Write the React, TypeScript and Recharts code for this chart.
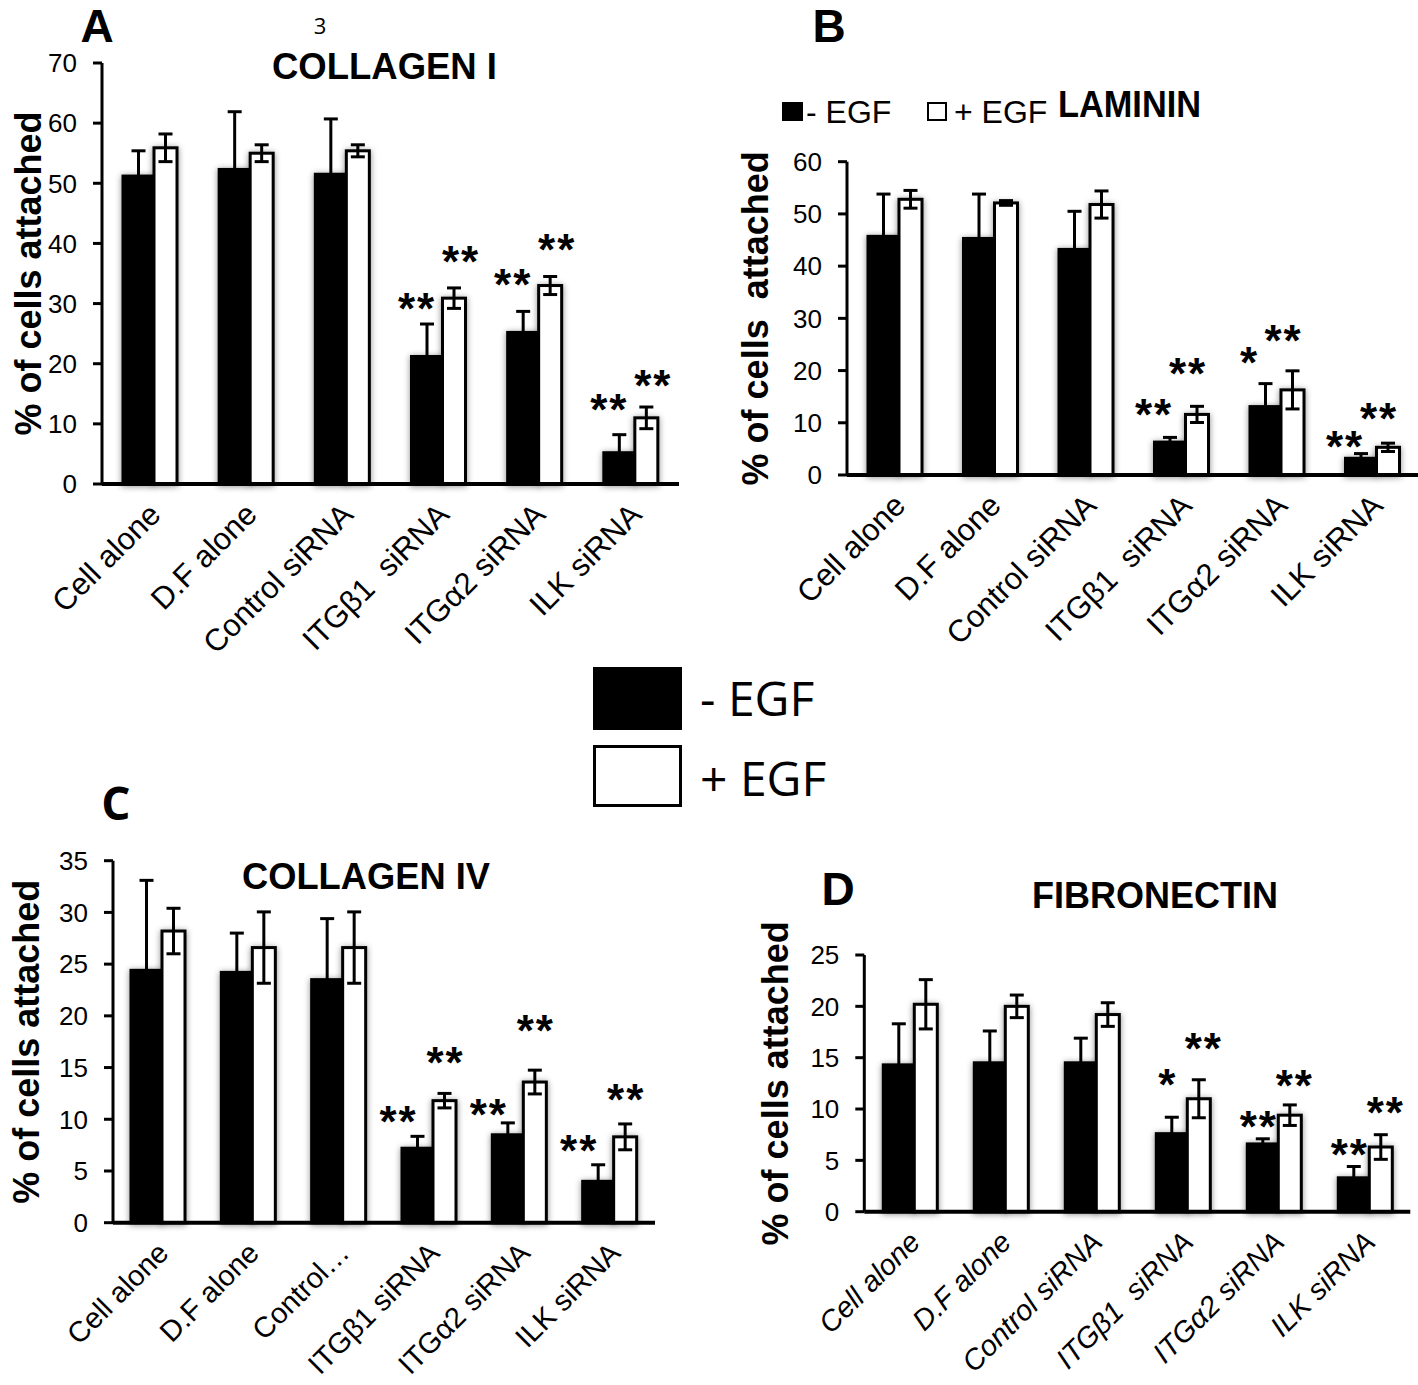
import React from 'react';
import { BarChart, Bar, XAxis, YAxis, ErrorBar } from 'recharts';

const FONT = '"Liberation Sans", Arial, Helvetica, sans-serif';
const LEG_FONT = '"Open Sans", "Liberation Sans", sans-serif';
const STAR_FS = 44;
const STAR_LS = 2;

const seriesNames = ['- EGF', '+ EGF'];

const labelsA = ['Cell alone', 'D.F alone', 'Control siRNA', 'ITGβ1  siRNA', 'ITGα2 siRNA', 'ILK siRNA'];
const labelsB = ['Cell alone', 'D.F alone', 'Control siRNA', 'ITGβ1  siRNA', 'ITGα2 siRNA', 'ILK siRNA'];
const labelsC = ['Cell alone', 'D.F alone', 'Control…', 'ITGβ1 siRNA', 'ITGα2 siRNA', 'ILK siRNA'];
const labelsD = ['Cell alone', 'D.F alone', 'Control siRNA', 'ITGβ1  siRNA', 'ITGα2 siRNA', 'ILK siRNA'];

// A – COLLAGEN I
const minusA = [51.2, 52.3, 51.5, 21.2, 25.2, 5.2];
const minusErrA = [4.2, 9.6, 9.2, 5.4, 3.5, 3.0];
const plusA = [55.9, 55.0, 55.4, 30.9, 33.0, 11.0];
const plusErrA = [2.3, 1.4, 1.0, 1.7, 1.5, 1.8];
const starsMinusA = ['', '', '', '**', '**', '**'];
const starLvMinusA = [0, 0, 0, 30.8, 34.7, 14.0];
const starsPlusA = ['', '', '', '**', '**', '**'];
const starLvPlusA = [0, 0, 0, 38.6, 40.6, 18.0];
const ticksA = [0, 10, 20, 30, 40, 50, 60, 70];

// B – LAMININ
const minusB = [45.7, 45.3, 43.2, 6.3, 13.1, 3.2];
const minusErrB = [8.1, 8.5, 7.3, 0.9, 4.4, 0.9];
const plusB = [52.8, 52.1, 51.8, 11.6, 16.3, 5.3];
const plusErrB = [1.7, 0.45, 2.6, 1.55, 3.65, 0.8];
const starsMinusB = ['', '', '', '**', '*', '**'];
const starLvMinusB = [0, 0, 0, 13.5, 23.4, 7.3];
const starsPlusB = ['', '', '', '**', '**', '**'];
const starLvPlusB = [0, 0, 0, 21.2, 27.5, 12.7];
const ticksB = [0, 10, 20, 30, 40, 50, 60];

// C – COLLAGEN IV
const minusC = [24.4, 24.2, 23.5, 7.2, 8.5, 4.0];
const minusErrC = [8.7, 3.8, 5.9, 1.15, 1.15, 1.6];
const plusC = [28.2, 26.6, 26.6, 11.8, 13.6, 8.3];
const plusErrC = [2.2, 3.45, 3.45, 0.7, 1.15, 1.25];
const starsMinusC = ['', '', '', '**', '**', '**'];
const starLvMinusC = [0, 0, 0, 10.7, 11.4, 7.9];
const starsPlusC = ['', '', '', '**', '**', '**'];
const starLvPlusC = [0, 0, 0, 16.4, 19.5, 12.8];
const ticksC = [0, 5, 10, 15, 20, 25, 30, 35];

// D – FIBRONECTIN
const minusD = [14.3, 14.5, 14.5, 7.6, 6.6, 3.3];
const minusErrD = [4.0, 3.1, 2.4, 1.6, 0.5, 1.1];
const plusD = [20.2, 20.0, 19.2, 11.0, 9.4, 6.3];
const plusErrD = [2.4, 1.1, 1.15, 1.85, 1.0, 1.2];
const starsMinusD = ['', '', '', '*', '**', '**'];
const starLvMinusD = [0, 0, 0, 13.3, 9.2, 6.5];
const starsPlusD = ['', '', '', '**', '**', '**'];
const starLvPlusD = [0, 0, 0, 16.8, 13.2, 10.6];
const ticksD = [0, 5, 10, 15, 20, 25];

const yTitle = '% of cells attached';
const yTitleB = '% of cells  attached';

const barShape = (fill: string, valueKey: string, starKey: string, levelKey: string, dx: number) => (p: any) => {
  const { x, y, width, height, payload } = p;
  const v = payload[valueKey];
  const base = y + height;
  const per = v ? height / v : 0;
  const star = payload[starKey];
  const lvl = payload[levelKey];
  return (
    <g>
      <rect
        x={x}
        y={y}
        width={width}
        height={height}
        fill={fill}
        stroke="#000"
        strokeWidth={3}
        style={{ filter: 'drop-shadow(0px 1px 3px rgba(0,0,0,0.45))' }}
      />
      {star ? (
        <text
          x={x + width / 2 + dx + STAR_LS / 2}
          y={base - lvl * per + STAR_FS * 0.57}
          textAnchor="middle"
          fontSize={STAR_FS}
          fontWeight="bold"
          letterSpacing={STAR_LS}
          fontFamily={FONT}
          fill="#000"
        >
          {star}
        </text>
      ) : null}
    </g>
  );
};

const XTick = (props: any) => {
  const { x, y, payload, italic, fs } = props;
  const ax = x + 5;
  const ay = y + 17;
  return (
    <text
      x={ax}
      y={ay}
      transform={`rotate(-45, ${ax}, ${ay})`}
      textAnchor="end"
      dominantBaseline="central"
      fontSize={fs}
      fontStyle={italic ? 'italic' : 'normal'}
      fontFamily={FONT}
      fill="#000"
      style={{ whiteSpace: 'pre' }}
    >
      {payload.value}
    </text>
  );
};

type Cfg = {
  left: number;
  top: number;
  width: number;
  height: number;
  mTop: number;
  mRight: number;
  yW: number;
  xH: number;
  max: number;
  ticks: number[];
  labels: string[];
  minus: number[];
  minusErr: number[];
  plus: number[];
  plusErr: number[];
  sM: string[];
  lM: number[];
  sP: string[];
  lP: number[];
  dxM: number;
  dxP: number;
  italic?: boolean;
  xFs: number;
  yTitle: string;
  yTitleX: number;
};

function Panel({ c }: { c: Cfg }) {
  const data = c.labels.map((name, i) => ({
    name,
    minus: c.minus[i],
    minusErr: c.minusErr[i],
    plus: c.plus[i],
    plusErr: c.plusErr[i],
    sM: c.sM[i],
    lM: c.lM[i],
    sP: c.sP[i],
    lP: c.lP[i],
  }));
  const plotH = c.height - c.mTop - c.xH;
  const cy = c.mTop + plotH / 2;
  return (
    <div style={{ position: 'absolute', left: c.left, top: c.top }}>
      <BarChart
        width={c.width}
        height={c.height}
        data={data}
        margin={{ top: c.mTop, right: c.mRight, bottom: 0, left: 0 }}
        barGap={0}
      >
        <XAxis
          dataKey="name"
          height={c.xH}
          interval={0}
          tickLine={false}
          axisLine={{ stroke: '#000', strokeWidth: 4 }}
          tick={<XTick italic={c.italic} fs={c.xFs} />}
        />
        <YAxis
          width={c.yW}
          domain={[0, c.max]}
          ticks={c.ticks}
          interval={0}
          axisLine={{ stroke: '#000', strokeWidth: 3 }}
          tickLine={{ stroke: '#000', strokeWidth: 3 }}
          tickSize={9}
          tickMargin={16}
          tick={{ fill: '#000', fontSize: 26, fontFamily: FONT }}
          label={{
            content: () => (
              <text
                x={c.yTitleX}
                y={cy}
                transform={`rotate(-90, ${c.yTitleX}, ${cy})`}
                textAnchor="middle"
                dominantBaseline="central"
                fontSize={36}
                fontWeight="bold"
                fontFamily={FONT}
                fill="#000"
                style={{ whiteSpace: 'pre' }}
              >
                {c.yTitle}
              </text>
            ),
          }}
        />
        <Bar
          dataKey="minus"
          name={seriesNames[0]}
          barSize={31}
          fill="#000"
          isAnimationActive={false}
          shape={barShape('#000', 'minus', 'sM', 'lM', c.dxM)}
        >
          <ErrorBar dataKey="minusErr" width={7} strokeWidth={3} stroke="#000" direction="y" />
        </Bar>
        <Bar
          dataKey="plus"
          name={seriesNames[1]}
          barSize={23}
          fill="#fff"
          isAnimationActive={false}
          shape={barShape('#fff', 'plus', 'sP', 'lP', c.dxP)}
        >
          <ErrorBar dataKey="plusErr" width={7} strokeWidth={3} stroke="#000" direction="y" />
        </Bar>
      </BarChart>
    </div>
  );
}

const cfgA: Cfg = {
  left: 0, top: 0, width: 690, height: 665, mTop: 63, mRight: 11, yW: 102, xH: 181,
  max: 70, ticks: ticksA, labels: labelsA,
  minus: minusA, minusErr: minusErrA, plus: plusA, plusErr: plusErrA,
  sM: starsMinusA, lM: starLvMinusA, sP: starsPlusA, lP: starLvPlusA,
  dxM: -11, dxP: 6, xFs: 31, yTitle, yTitleX: 28,
};
const cfgB: Cfg = {
  left: 720, top: 0, width: 700, height: 665, mTop: 161.7, mRight: 0, yW: 127, xH: 190,
  max: 60, ticks: ticksB, labels: labelsB,
  minus: minusB, minusErr: minusErrB, plus: plusB, plusErr: plusErrB,
  sM: starsMinusB, lM: starLvMinusB, sP: starsPlusB, lP: starLvPlusB,
  dxM: -17, dxP: -10, xFs: 31, yTitle: yTitleB, yTitleX: 36,
};
const cfgC: Cfg = {
  left: 0, top: 780, width: 670, height: 605, mTop: 80.7, mRight: 15, yW: 113, xH: 162.3,
  max: 35, ticks: ticksC, labels: labelsC,
  minus: minusC, minusErr: minusErrC, plus: plusC, plusErr: plusErrC,
  sM: starsMinusC, lM: starLvMinusC, sP: starsPlusC, lP: starLvPlusC,
  dxM: -20, dxP: 0, xFs: 29, yTitle, yTitleX: 27,
};
const cfgD: Cfg = {
  left: 740, top: 860, width: 680, height: 525, mTop: 95, mRight: 9.7, yW: 124.3, xH: 173.3,
  max: 25, ticks: ticksD, labels: labelsD,
  minus: minusD, minusErr: minusErrD, plus: plusD, plusErr: plusErrD,
  sM: starsMinusD, lM: starLvMinusD, sP: starsPlusD, lP: starLvPlusD,
  dxM: -5, dxP: 4, italic: true, xFs: 29, yTitle, yTitleX: 36,
};

function Overlay() {
  const letter = { fontSize: 46, fontWeight: 'bold' as const, fontFamily: FONT, fill: '#000' };
  const title = { fontSize: 36, fontWeight: 'bold' as const, fontFamily: FONT, fill: '#000', lengthAdjust: 'spacingAndGlyphs' as const };
  return (
    <svg
      width={1418}
      height={1385}
      style={{ position: 'absolute', left: 0, top: 0, pointerEvents: 'none' }}
    >
      <text x={97} y={42} textAnchor="middle" {...letter}>A</text>
      <text x={320} y={25} textAnchor="middle" dominantBaseline="central" fontSize={22} fontFamily={LEG_FONT} fill="#000">3</text>
      <text x={272} y={66} dominantBaseline="central" textLength={225} {...title}>COLLAGEN I</text>

      <text x={829} y={42} textAnchor="middle" {...letter}>B</text>
      <rect x={782} y={102} width={21} height={19} fill="#000" />
      <text x={806} y={112} dominantBaseline="central" fontSize={32} fontFamily={FONT} fill="#000">{seriesNames[0]}</text>
      <rect x={928} y={103} width={18} height={17} fill="#fff" stroke="#000" strokeWidth={2} />
      <text x={954} y={112} dominantBaseline="central" fontSize={32} fontFamily={FONT} fill="#000">{seriesNames[1]}</text>
      <text x={1058} y={104} dominantBaseline="central" textLength={143} {...title}>LAMININ</text>

      <rect x={593} y={667} width={89} height={63} fill="#000" />
      <rect x={594.5} y={746.5} width={86} height={59} fill="#fff" stroke="#000" strokeWidth={3} />
      <text x={700} y={697} dominantBaseline="central" fontSize={48} fontFamily={LEG_FONT} fill="#000">{seriesNames[0]}</text>
      <text x={700} y={777} dominantBaseline="central" fontSize={48} fontFamily={LEG_FONT} fill="#000">{seriesNames[1]}</text>

      <text x={116} y={820} textAnchor="middle" {...letter} fontFamily={LEG_FONT}>C</text>
      <text x={242} y={876} dominantBaseline="central" textLength={248} {...title}>COLLAGEN IV</text>

      <text x={838} y={905} textAnchor="middle" {...letter}>D</text>
      <text x={1032} y={895} dominantBaseline="central" textLength={246} {...title}>FIBRONECTIN</text>
    </svg>
  );
}

export default function App() {
  return (
    <div
      style={{
        position: 'absolute',
        left: 0,
        top: 0,
        width: 1418,
        height: 1385,
        overflow: 'hidden',
        background: '#fff',
        fontFamily: FONT,
      }}
    >
      <Panel c={cfgA} />
      <Panel c={cfgB} />
      <Panel c={cfgC} />
      <Panel c={cfgD} />
      <Overlay />
    </div>
  );
}
